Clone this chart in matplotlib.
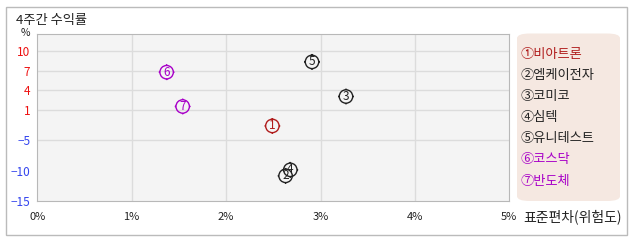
import matplotlib
matplotlib.use('Agg')
import matplotlib.pyplot as plt
import numpy as np
from matplotlib.path import Path
from matplotlib.patches import FancyBboxPatch, Rectangle

plt.rcParams['font.family'] = ['Noto Sans CJK KR', 'DejaVu Sans']

# data
names = ['비아트론', '엠케이전자', '코미코', '심텍', '유니테스트', '코스닥', '반도체']
std_dev = [2.49, 2.63, 3.27, 2.68, 2.91, 1.37, 1.54]
returns = [-2.1, -10.8, 3.1, -9.8, 8.3, 6.75, 1.6]
colors = ['#b01c1c', '#222222', '#222222', '#222222', '#222222', '#a800c8', '#a800c8']
circled = ['①', '②', '③', '④', '⑤', '⑥', '⑦']

y_ticks = [10, 7, 4, 1, -5, -10, -15]
x_ticks = [0, 1, 2, 3, 4, 5]

# the y axis of the original is not linear, map pieces
y_vals = [-15, -10, -5, 1, 4, 7, 10, 12.5]
y_pos = [0, 30, 60.7, 90.7, 110.7, 130.7, 150.7, 167.3]

def fwd(v):
    return np.interp(v, y_vals, y_pos)

def inv(p):
    return np.interp(p, y_pos, y_vals)

# circle marker with small ticks
circ = Path.unit_circle()
ticks = []
for dx, dy in [(0, 1), (0, -1), (1, 0), (-1, 0)]:
    ticks.append(Path([(dx, dy), (dx * 1.18, dy * 1.18)], [Path.MOVETO, Path.LINETO]))
marker_path = Path.make_compound_path(circ, *ticks)

fig = plt.figure(figsize=(6.38, 2.42), dpi=100)
fig.patches.append(Rectangle((6 / 638, 1 - 235 / 242), 621 / 638, 228 / 242,
                             transform=fig.transFigure, fill=False,
                             edgecolor='#bbbbbb', linewidth=1))

ax = fig.add_axes([37.3 / 638, 41 / 242, 472 / 638, 167 / 242])
ax.set_yscale('function', functions=(fwd, inv))
ax.set_facecolor('#f4f4f4')
ax.set_xlim(0, 5)
ax.set_ylim(-15, 12.5)

for y in [10, 7, 4, 1, -5]:
    ax.axhline(y, color='#dcdcdc', linewidth=1, zorder=0)
for x in [1, 2, 3, 4]:
    ax.axvline(x, color='#dcdcdc', linewidth=1, zorder=0)

for s in ax.spines.values():
    s.set_color('#b8b8b8')

ax.set_yticks(y_ticks)
ax.set_yticklabels([str(v).replace('-', '\u2212') for v in y_ticks], fontsize=8.5)
for lab, v in zip(ax.get_yticklabels(), y_ticks):
    lab.set_color('#ee1111' if v > 0 else '#3344ee')
ax.set_xticks(x_ticks)
ax.set_xticklabels([f'{v}%' for v in x_ticks], fontsize=8, color='#222222')
ax.tick_params(length=0, pad=5)
ax.tick_params(axis='x', pad=8)

for i in range(len(names)):
    ax.scatter(std_dev[i], returns[i], marker=marker_path, s=130, facecolors='none',
               edgecolors=colors[i], linewidths=1, zorder=3 + i)
    ax.text(std_dev[i], returns[i], str(i + 1), color=colors[i], fontsize=8.5,
            ha='center', va='center', zorder=3 + i)

fig.text(16 / 638, 1 - 20.5 / 242, '4주간 수익률', fontsize=9.5, color='#222222',
         ha='left', va='center')
fig.text(25 / 638, 1 - 33 / 242, '%', fontsize=7.5, color='#222222', ha='center', va='center')
fig.text(622 / 638, 1 - 216.5 / 242, '표준편차(위험도)', fontsize=10, color='#222222',
         ha='right', va='center')

# legend box
fig.patches.append(FancyBboxPatch((517 / 638, 1 - 201 / 242), 103 / 638, 167.5 / 242,
                                  boxstyle='round,pad=0,rounding_size=0.02',
                                  transform=fig.transFigure, facecolor='#f5e8e1',
                                  edgecolor='none'))
for i in range(len(names)):
    ypix = 54.5 + i * 21.1
    fig.text(521 / 638, 1 - ypix / 242, circled[i] + names[i], fontsize=9.5,
             color=colors[i], ha='left', va='center')

fig.savefig('out.png', dpi=100)
